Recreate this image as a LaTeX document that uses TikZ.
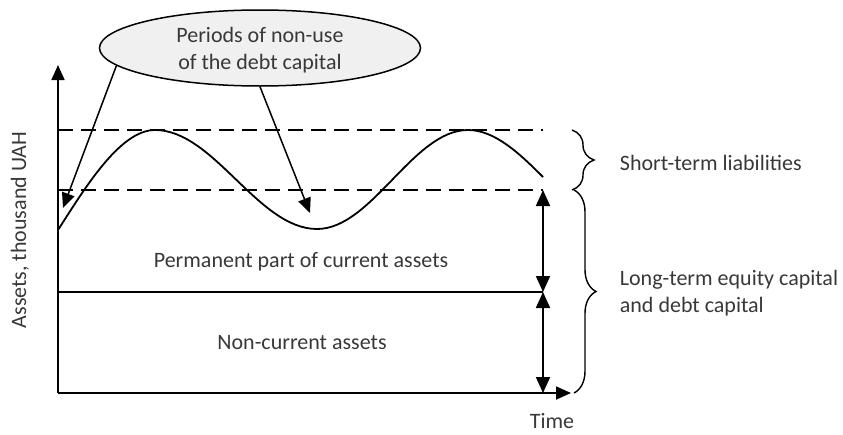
\documentclass[tikz,border=0pt]{standalone}
\usepackage{fontspec}
\setmainfont{Carlito}
\usetikzlibrary{arrows.meta,shapes.geometric,decorations.pathreplacing}
\begin{document}
\begin{tikzpicture}[x=1pt,y=-1pt,
  line width=1.8pt,
  txt/.style={text=black!78,font=\fontsize{22}{27}\selectfont,inner sep=0pt},
  tip/.style={-{Triangle[length=15pt,width=13pt]}},
  dbl/.style={{Triangle[length=16pt,width=14pt]}-{Triangle[length=16pt,width=14pt]}},
  level/.style={dash pattern=on 15pt off 8pt},
  brc/.style={decorate,decoration={brace,amplitude=22pt},line width=1.4pt}]
\useasboundingbox (0,0) rectangle (843,434);

% axes
\coordinate (O) at (58,393);
\coordinate (ytop) at (58,65);
\coordinate (xend) at (571,393);
\draw[tip] (O) -- (ytop);
\draw[tip] (O) -- (xend);

% horizontal levels
\coordinate (up0) at (58,130);  \coordinate (up1) at (543,130);
\coordinate (lo0) at (58,190);  \coordinate (lo1) at (543,190);
\coordinate (mid0) at (58,292); \coordinate (mid1) at (543,292);
\coordinate (bot1) at (543,393);
\draw[level] (up0) -- (up1);
\draw[level] (lo0) -- (lo1);
\draw[line width=1.5pt] (mid0) -- (mid1);

% fluctuating current assets
\draw (58,230) .. controls (85,188) and (120,130) .. (155,130)
      .. controls (214,130) and (258,229) .. (317,229)
      .. controls (372,229) and (413,130) .. (468,130)
      .. controls (495,130) and (520,154) .. (543,177);

% double arrows on the right
\draw[dbl] (lo1) -- (mid1);
\draw[dbl] (mid1) -- (bot1);

% braces
\coordinate (b1) at (572,130); \coordinate (b2) at (572,190);
\coordinate (b3) at (574,190); \coordinate (b4) at (574,393);
\draw[brc] (b1) -- (b2);
\draw[brc] (b3) -- (b4);

% callout
\node[ellipse,draw,fill=black!6,line width=1.5pt,minimum width=321pt,minimum height=76pt,inner sep=0pt]
  (ell) at (260,48) {};
\node[txt,align=center] (calltxt) at (260,50) {Periods of non-use\\of the debt capital};
\coordinate (t1) at (63,208);
\coordinate (t2) at (310,213);
\draw[tip,line width=1.5pt] (ell.187) -- (t1);
\draw[tip,line width=1.5pt] (ell.270) -- (t2);

% labels
\node[txt,anchor=west] (stl) at (619,163) {Short-term liabilities};
\node[txt,anchor=west,align=left] (ltc) at (619,293) {Long-term equity capital\\and debt capital};
\node[txt] (perm) at (301,262) {Permanent part of current assets};
\node[txt] (nca) at (302,343) {Non-current assets};
\node[txt] (time) at (552,421) {Time};
\node[txt,rotate=90] (ylab) at (20,230) {Assets, thousand UAH};
\end{tikzpicture}
\end{document}
